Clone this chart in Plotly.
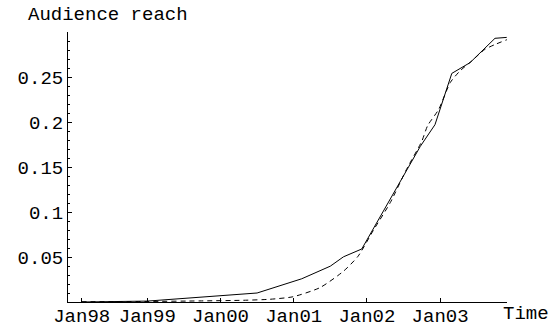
import plotly.graph_objects as go

# Observed audience reach (solid) and fitted diffusion curve (dashed); time in decimal years
observed_time = [1998.10, 1998.72, 1999.00, 2000.50, 2001.11, 2001.50, 2001.68, 2001.93,
                 2002.73, 2002.93, 2003.16, 2003.41, 2003.75, 2003.91]
observed_reach = [0.0, 0.0002, 0.001, 0.010, 0.0258, 0.0398, 0.0502, 0.0589,
                  0.173, 0.197, 0.254, 0.266, 0.293, 0.294]

fitted_time = [1998.10, 1999.00, 1999.72, 2000.31, 2000.67, 2000.99, 2001.36, 2001.68,
               2001.88, 2002.09, 2002.32, 2002.54, 2002.75, 2002.83, 2002.98, 2003.14,
               2003.27, 2003.43, 2003.61, 2003.75, 2003.92]
fitted_reach = [0.0003, 0.0006, 0.0012, 0.0019, 0.0030, 0.0058, 0.016, 0.0342,
                0.0509, 0.0799, 0.1105, 0.1472, 0.1786, 0.1960, 0.2139, 0.2440,
                0.2566, 0.2677, 0.2806, 0.2861, 0.2917]

# Tick positions and labels
x_tick_vals = [1998.104, 1999.0, 2000.0, 2001.0, 2002.0, 2003.0]
x_tick_text = ["Jan98", "Jan99", "Jan00", "Jan01", "Jan02", "Jan03"]
y_tick_vals = [0.05, 0.10, 0.15, 0.20, 0.25]
y_tick_text = ["0.05", "0.1", "0.15", "0.2", "0.25"]

FONT = "Courier New, Liberation Mono, monospace"
SIZE = 19

fig = go.Figure()
fig.add_trace(go.Scatter(x=fitted_time, y=fitted_reach, mode="lines",
                         line=dict(color="black", width=1, dash="5px,4px", shape="spline",
                                   smoothing=0.6),
                         hoverinfo="skip"))
fig.add_trace(go.Scatter(x=observed_time, y=observed_reach, mode="lines",
                         line=dict(color="black", width=1),
                         hoverinfo="skip"))

W, H = 559, 329
ML, MR, MT, MB = 68, 52, 32, 27

fig.update_layout(
    width=W, height=H,
    margin=dict(l=ML, r=MR, t=MT, b=MB, pad=0, autoexpand=False),
    paper_bgcolor="white", plot_bgcolor="white",
    showlegend=False,
    font=dict(family=FONT, size=SIZE, color="black"),
    xaxis=dict(range=[1997.917, 2003.914], showgrid=False, zeroline=False,
               automargin=False,
               showline=True, linecolor="black", linewidth=1,
               tickmode="array", tickvals=x_tick_vals, ticktext=x_tick_text,
               ticks="inside", ticklen=4, tickwidth=1, tickcolor="black",
               ticklabelstandoff=-4,
               tickfont=dict(family=FONT, size=SIZE, color="black")),
    yaxis=dict(range=[0, 0.3], showgrid=False, zeroline=False,
               automargin=False,
               showline=True, linecolor="black", linewidth=1,
               tickmode="array", tickvals=y_tick_vals, ticktext=y_tick_text,
               ticks="inside", ticklen=4, tickwidth=1, tickcolor="black",
               tickfont=dict(family=FONT, size=SIZE, color="black"),
               minor=dict(tickmode="linear", tick0=0, dtick=0.01, ticks="inside",
                          ticklen=2, tickwidth=1, tickcolor="black")),
)

pw = W - ML - MR
ph = H - MT - MB


def px_x(p):
    return (p - ML) / pw


def px_y(p):
    return (H - MB - p) / ph


fig.add_annotation(text="Audience reach", xref="paper", yref="paper",
                   x=px_x(26), y=px_y(15), xanchor="left", yanchor="middle",
                   showarrow=False, font=dict(family=FONT, size=SIZE, color="black"))
fig.add_annotation(text="Time", xref="paper", yref="paper",
                   x=px_x(501), y=px_y(314), xanchor="left", yanchor="middle",
                   showarrow=False, font=dict(family=FONT, size=SIZE, color="black"))

fig.write_html("out.html")
